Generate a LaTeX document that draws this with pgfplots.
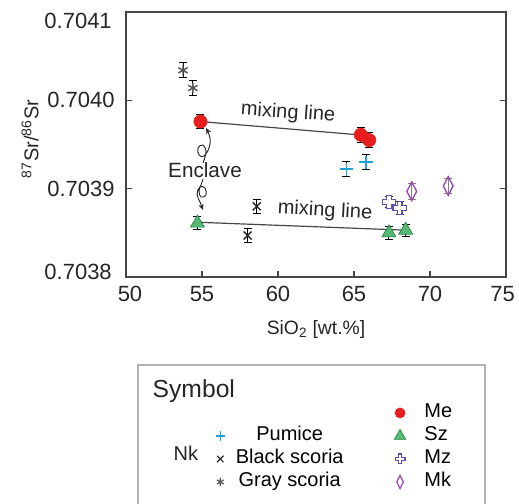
\documentclass[border=0pt]{standalone}
\usepackage{pgfplots}
\pgfplotsset{compat=1.18}
\usepackage{fontspec}
\setmainfont{Liberation Sans}
\usetikzlibrary{arrows.meta}

\definecolor{meRed}{RGB}{232,30,30}
\definecolor{szGreen}{RGB}{85,185,115}
\definecolor{szEdge}{RGB}{35,130,70}
\definecolor{pumCyan}{RGB}{30,160,215}
\definecolor{mzPurple}{RGB}{95,80,180}
\definecolor{mkPurple}{RGB}{150,70,175}
\definecolor{grayS}{RGB}{85,85,85}
\definecolor{axisGray}{RGB}{70,70,70}

\pgfdeclareplotmark{hplus}{%
  \pgfmathsetlengthmacro\hpR{\pgfplotmarksize}%
  \pgfmathsetlengthmacro\hpA{0.36*\pgfplotmarksize}%
  \pgfpathmoveto{\pgfpoint{-\hpA}{\hpR}}%
  \pgfpathlineto{\pgfpoint{\hpA}{\hpR}}%
  \pgfpathlineto{\pgfpoint{\hpA}{\hpA}}%
  \pgfpathlineto{\pgfpoint{\hpR}{\hpA}}%
  \pgfpathlineto{\pgfpoint{\hpR}{-\hpA}}%
  \pgfpathlineto{\pgfpoint{\hpA}{-\hpA}}%
  \pgfpathlineto{\pgfpoint{\hpA}{-\hpR}}%
  \pgfpathlineto{\pgfpoint{-\hpA}{-\hpR}}%
  \pgfpathlineto{\pgfpoint{-\hpA}{-\hpA}}%
  \pgfpathlineto{\pgfpoint{-\hpR}{-\hpA}}%
  \pgfpathlineto{\pgfpoint{-\hpR}{\hpA}}%
  \pgfpathlineto{\pgfpoint{-\hpA}{\hpA}}%
  \pgfpathclose
  \pgfusepathqfillstroke}

\pgfplotsset{
  ebar/.style={
    /pgfplots/error bars/y dir=both,
    /pgfplots/error bars/y explicit,
    /pgfplots/error bars/error mark=-,
    /pgfplots/error bars/error mark options={rotate=90, #1, mark size=3pt, line width=0.7pt},
    /pgfplots/error bars/error bar style={#1, line width=0.7pt}},
  ebar/.default=black,
}

\pgfplotstableread{
x y e
53.75 0.704034 0.0000085
54.4 0.704014 0.0000085
}\grayscoria
\pgfplotstableread{
x y e
54.9 0.703976 0.0000075
65.45 0.703961 0.0000085
66.0 0.703955 0.0000085
}\me
\pgfplotstableread{
x y e
64.5 0.703922 0.0000085
65.8 0.703930 0.0000085
}\pumice
\pgfplotstableread{
x y e
54.7 0.703861 0.000007
67.3 0.703850 0.000007
68.4 0.703853 0.000007
}\sz
\pgfplotstableread{
x y e
58.0 0.703847 0.000008
58.6 0.703880 0.000008
}\blackscoria
\pgfplotstableread{
x y e
67.3 0.703885 0.000006
68.0 0.703878 0.000007
}\mz
\pgfplotstableread{
x y e
68.8 0.703897 0.000009
71.2 0.703903 0.000008
}\mk

\begin{document}
\begin{tikzpicture}
\begin{axis}[
  at={(0,0)}, anchor=south west,
  scale only axis, width=285pt, height=198.75pt,
  xmin=50, xmax=75, ymin=0.7038, ymax=0.7041,
  xtick={50,55,60,65,70,75},
  xticklabels={\hspace*{6pt}50,55,60,65,70,75\hspace*{5pt}},
  ytick={0.7038,0.7039,0.7040,0.7041},
  yticklabels={,0.7039,0.7040,},
  scaled y ticks=false,
  tick align=inside, xtick pos=bottom, ytick pos=both,
  major tick length=4.5pt,
  axis line style={axisGray, line width=0.9pt},
  tick style={axisGray, line width=0.9pt},
  tick label style={font=\fontsize{16.5}{18}\selectfont, text=black!85},
  /pgf/number format/assume math mode=true,
  xticklabel style={yshift=-3.5pt},
  yticklabel style={xshift=-5pt},
  clip=false,
  legend cell align=left,
  legend style={
    at={(axis description cs:0.2176,-0.4755)}, anchor=north west,
    draw=none, fill=none, inner sep=0pt,
    font=\fontsize{15}{17}\selectfont,
    nodes={inner sep=0pt, text height=11pt, text depth=3.5pt},
    row sep=2.75pt, column sep=8pt,
    legend columns=2,
    /tikz/every even column/.append style={column sep=38pt},
  },
]
% mixing lines
\addplot[forget plot, no marks, axisGray, line width=0.9pt] coordinates {(54.9,0.703976) (65.3,0.703961)};
\addplot[forget plot, no marks, axisGray, line width=0.9pt] coordinates {(54.7,0.703862) (68.4,0.703853)};

\addplot[forget plot, only marks, mark=asterisk, mark size=4pt, grayS, mark options={line width=1.1pt}, ebar]
  table[x=x, y=y, y error=e] {\grayscoria};
\addplot[forget plot, only marks, mark=x, mark size=4.2pt, black!85, mark options={line width=1.1pt}, ebar]
  table[x=x, y=y, y error=e] {\blackscoria};
\addplot[forget plot, only marks, mark=+, mark size=5pt, pumCyan, mark options={line width=1.3pt}, ebar]
  table[x=x, y=y, y error=e] {\pumice};
\addplot[forget plot, only marks, mark=diamond, mark size=7pt, mkPurple, mark options={xscale=0.7, line width=1pt}, ebar=gray]
  table[x=x, y=y, y error=e] {\mk};
\addplot[forget plot, only marks, mark=hplus, mark size=5pt, mark options={draw=mzPurple, fill=white, line width=1pt}, ebar]
  table[x=x, y=y, y error=e] {\mz};
\addplot[forget plot, only marks, mark=*, mark size=5pt, mark options={draw=meRed, fill=meRed}, ebar]
  table[x=x, y=y, y error=e] {\me};
\addplot[forget plot, only marks, mark=triangle*, mark size=6pt, mark options={draw=szEdge, fill=szGreen, line width=0.5pt}, ebar]
  table[x=x, y=y, y error=e] {\sz};

% legend
\addlegendimage{empty legend}
\addlegendentry{}
\addlegendimage{only marks, mark=*, mark size=3.8pt, mark options={draw=meRed, fill=meRed}}
\addlegendentry{\hspace*{6pt}Me}
\addlegendimage{only marks, mark=+, mark size=3.6pt, pumCyan, mark options={line width=1pt}}
\addlegendentry{\ooalign{\phantom{Black scoria}\cr\hfil Pumice\hfil}}
\addlegendimage{only marks, mark=triangle*, mark size=5pt, mark options={draw=szEdge, fill=szGreen, line width=0.4pt}}
\addlegendentry{\hspace*{6pt}Sz}
\addlegendimage{only marks, mark=x, mark size=3.4pt, black!85, mark options={line width=0.9pt}}
\addlegendentry{Black scoria}
\addlegendimage{only marks, mark=hplus, mark size=3.6pt, mark options={draw=mzPurple, fill=white, line width=1pt}}
\addlegendentry{\hspace*{6pt}Mz}
\addlegendimage{only marks, mark=asterisk, mark size=3pt, grayS, mark options={line width=0.9pt}}
\addlegendentry{\ooalign{\phantom{Black scoria}\cr\hfil Gray scoria\hfil}}
\addlegendimage{only marks, mark=diamond, mark size=5pt, mkPurple, mark options={xscale=0.65, line width=0.9pt}}
\addlegendentry{\hspace*{6pt}Mk}
\end{axis}

\begin{scope}[x=0.75pt, y=-0.75pt, shift={(-94.5pt,207.75pt)}]
  % extreme y tick labels (set inward, as in the original)
  \node[anchor=east, inner sep=0pt, font=\fontsize{16.5}{18}\selectfont, text=black!85] at (112,20.5) {0.7041};
  \node[anchor=east, inner sep=0pt, font=\fontsize{16.5}{18}\selectfont, text=black!85] at (112,271.5) {0.7038};
  % y label
  \node[rotate=90, font=\fontsize{15}{17}\selectfont, text=black!85] at (30,139)
    {\textsuperscript{87}Sr/\textsuperscript{86}Sr};
  % x label
  \node[font=\fontsize{14.5}{16}\selectfont, text=black!85] at (316,330)
    {SiO\textsubscript{2} [wt.\%]};
  % annotations
  \node[rotate=-4, font=\fontsize{15}{17}\selectfont, text=black!85] at (288,113) {mixing line};
  \node[rotate=-3, font=\fontsize{15}{17}\selectfont, text=black!85] at (325,211) {mixing line};
  \node[font=\fontsize{15.5}{17}\selectfont, text=black!85] at (205,170) {Enclave};
  \draw[black!85, line width=0.7pt, -{Stealth[length=4.5pt,width=4pt]}]
    plot[smooth, tension=0.7] coordinates {(203,163) (205,157) (206,151) (203,145) (198,148) (199,155) (204,156) (209,148) (210,138) (206,128)};
  \draw[black!85, line width=0.7pt, -{Stealth[length=4.5pt,width=4pt]}]
    plot[smooth, tension=0.7] coordinates {(203,179) (201,185) (199,191) (201,197) (206,195) (205,188) (200,187) (197,194) (200,202) (203,210)};
  % legend frame and titles
  \draw[black!30, line width=0.8pt] (138,520) -- (138,365) -- (485,365) -- (485,520);
  \node[anchor=base west, font=\fontsize{18.5}{20}\selectfont, text=black!85] at (148,397) {Symbol};
  \node[anchor=base west, font=\fontsize{15}{17}\selectfont, text=black!85] at (169,460) {Nk};
  \pgfresetboundingbox
  \path[use as bounding box] (0,0) rectangle (519,504);
\end{scope}
\end{tikzpicture}
\end{document}
